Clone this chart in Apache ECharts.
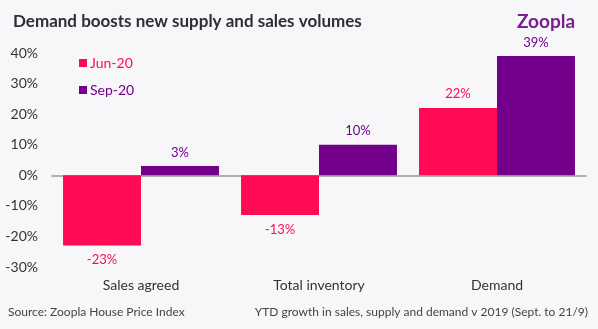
<!DOCTYPE html>
<html><head><meta charset="utf-8">
<script src="https://cdn.jsdelivr.net/npm/echarts@6/dist/echarts.min.js"></script>
<style>html,body{margin:0;padding:0;background:#f7f7f9}#c{width:598px;height:329px}</style>
</head><body><div id="c"></div>
<script>
const categories = ["Sales agreed", "Total inventory", "Demand"];
const seriesNames = ["Jun-20", "Sep-20"];
const jun20 = [-23, -13, 22];
const sep20 = [3, 10, 39];
const yTicks = [-30, -20, -10, 0, 10, 20, 30, 40];

const PINK = "#ff0a54", PURPLE = "#73008b";
const FONT = "Lato, 'Open Sans', sans-serif";
const chart = echarts.init(document.getElementById('c'));
chart.setOption({
  backgroundColor: "#f7f7f9",
  animation: false,
  title: {
    text: "Demand boosts new supply and sales volumes",
    left: 8, top: 8,
    textStyle: {fontFamily: FONT, fontWeight: "bold", fontSize: 17, color: "#2e2e33"}
  },
  graphic: [{
    type: "text", left: 517, top: 12,
    style: {text: "Zoopla", fontFamily: FONT, fontWeight: "bold", fontSize: 19, fill: "#7b1c8f"}
  }, {
    type: "text", left: 8, top: 306,
    style: {text: "Source: Zoopla House Price Index", fontFamily: FONT, fontSize: 12, fill: "#444"}
  }, {
    type: "text", right: 10, top: 306,
    style: {text: "YTD growth in sales, supply and demand v 2019 (Sept. to 21/9)", fontFamily: FONT, fontSize: 12, fill: "#444", textAlign: "right"}
  }],
  legend: {
    orient: "vertical", left: 79, top: 56, itemGap: 13, padding: 0,
    itemWidth: 8, itemHeight: 8, icon: "rect",
    data: seriesNames.map((n, i) => ({name: n, textStyle: {color: i ? PURPLE : PINK}})),
    textStyle: {fontFamily: FONT, fontSize: 14, padding: [0, 0, 0, -2]}
  },
  grid: {left: 52, right: 12, top: 53, bottom: 62},
  xAxis: [{
    type: "category", data: categories,
    axisLine: {onZero: true, lineStyle: {color: "#999", width: 1.5}},
    axisTick: {show: false},
    axisLabel: {show: false}
  }, {
    type: "category", data: categories, position: "bottom",
    axisLine: {show: false, onZero: false},
    axisTick: {show: false},
    axisLabel: {fontFamily: FONT, fontSize: 14, color: "#333", margin: 11}
  }],
  yAxis: {
    type: "value", min: yTicks[0], max: yTicks[yTicks.length - 1], interval: 10,
    splitLine: {show: false}, axisLine: {show: false}, axisTick: {show: false},
    axisLabel: {fontFamily: FONT, fontSize: 14, color: "#333", margin: 14, formatter: v => v + "%"}
  },
  series: [
    {name: seriesNames[0], type: "bar", xAxisIndex: 0, data: jun20, barGap: 0, barCategoryGap: "12.4%",
     itemStyle: {color: PINK},
     label: {show: true, position: "outside", formatter: p => p.value + "%", color: PINK, fontFamily: FONT, fontSize: 13, distance: 8}},
    {name: seriesNames[1], type: "bar", xAxisIndex: 0, data: sep20, barGap: 0, barCategoryGap: "12.4%",
     itemStyle: {color: PURPLE},
     label: {show: true, position: "top", formatter: p => p.value + "%", color: PURPLE, fontFamily: FONT, fontSize: 13, distance: 7}}
  ]
});
</script></body></html>
